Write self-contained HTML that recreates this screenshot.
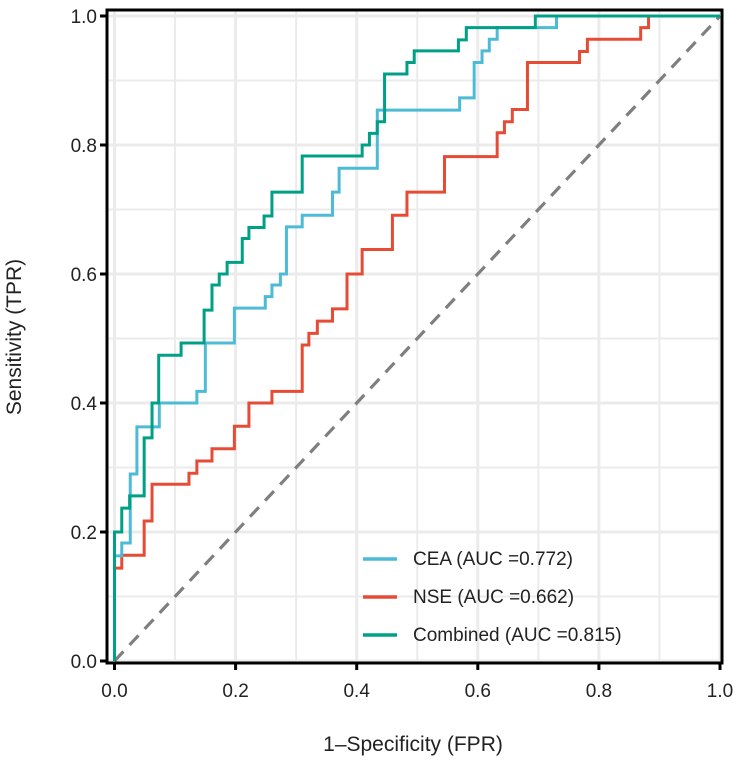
<!DOCTYPE html>
<html><head><meta charset="utf-8"><style>
body{margin:0;background:#fff}
svg text{font-family:"Liberation Sans",Arial,sans-serif;fill:#222}
</style></head><body>
<svg id="c" width="744" height="760"></svg>
<script>
const cats=["CEA (AUC =0.772)","NSE (AUC =0.662)","Combined (AUC =0.815)"];
const colors=["#4dbbd5","#e64b35","#00a087"];
const ticks=[0,0.2,0.4,0.6,0.8,1.0];
const ceaFpr=[0,0,0.012,0.026,0.037,0.074,0.136,0.150,0.198,0.249,0.260,0.274,0.284,0.310,0.360,0.371,0.434,0.570,0.594,0.607,0.619,0.632,0.730,1];
const ceaTpr=[0,0.163,0.183,0.29,0.363,0.40,0.418,0.493,0.547,0.565,0.583,0.60,0.673,0.691,0.727,0.764,0.854,0.873,0.928,0.946,0.964,0.982,1.0,1.0];
const nseFpr=[0,0,0.012,0.049,0.062,0.123,0.136,0.161,0.198,0.222,0.260,0.310,0.321,0.335,0.360,0.384,0.409,0.459,0.483,0.545,0.632,0.644,0.657,0.682,0.768,0.781,0.869,0.882,1];
const nseTpr=[0,0.144,0.164,0.217,0.274,0.291,0.31,0.329,0.364,0.40,0.418,0.49,0.508,0.527,0.546,0.60,0.638,0.691,0.727,0.782,0.819,0.836,0.855,0.928,0.945,0.964,0.982,1.0,1.0];
const combFpr=[0,0,0.012,0.025,0.049,0.062,0.073,0.110,0.148,0.161,0.173,0.186,0.211,0.222,0.247,0.260,0.310,0.409,0.421,0.434,0.446,0.483,0.495,0.568,0.581,0.695,1];
const combTpr=[0,0.2,0.237,0.256,0.346,0.40,0.474,0.493,0.544,0.583,0.60,0.618,0.655,0.672,0.69,0.727,0.783,0.80,0.818,0.836,0.91,0.928,0.946,0.963,0.982,1.0,1.0];
const series=[[ceaFpr,ceaTpr],[nseFpr,nseTpr],[combFpr,combTpr]];
const NS="http://www.w3.org/2000/svg",svg=document.getElementById('c');
const X0=114.5,X1=720,Y0=661,Y1=16;
const sx=v=>X0+v*(X1-X0), sy=v=>Y0-v*(Y0-Y1);
function el(t,a,p){const e=document.createElementNS(NS,t);for(const k in a)e.setAttribute(k,a[k]);(p||svg).appendChild(e);return e;}
const L=107,R=722,T=10,B=663;
const grid=el('g',{});


for(let i=0;i<ticks.length;i++){
  const v=ticks[i];
  el('line',{x1:sx(v),x2:sx(v),y1:T,y2:B,stroke:'#ebebeb','stroke-width':3},grid);
  el('line',{x1:L,x2:R,y1:sy(v),y2:sy(v),stroke:'#ebebeb','stroke-width':3},grid);
  if(i<ticks.length-1){const m=v+0.1;
    el('line',{x1:sx(m),x2:sx(m),y1:T,y2:B,stroke:'#ebebeb','stroke-width':2},grid);
    el('line',{x1:L,x2:R,y1:sy(m),y2:sy(m),stroke:'#ebebeb','stroke-width':2},grid);}
}
const diag=el('line',{x1:sx(0),y1:sy(0),x2:sx(1),y2:sy(1),stroke:'#7f7f7f','stroke-width':3.2,'stroke-dasharray':'13 9'});


const order=[1,0,2];
order.forEach(s=>{
  const [f,t]=series[s];
  let d='M'+sx(f[0])+','+sy(t[0]);
  for(let i=1;i<f.length;i++){d+=' H'+sx(f[i])+' V'+sy(t[i]);}
  const p=el('path',{d:d,fill:'none',stroke:colors[s],'stroke-width':3,'stroke-linejoin':'miter'});
  
  
});
const frame=el('rect',{x:L,y:T,width:R-L,height:B-T,fill:'none',stroke:'#000','stroke-width':3});


ticks.forEach(v=>{
  el('line',{x1:sx(v),x2:sx(v),y1:B,y2:B+7,stroke:'#000','stroke-width':3});
  el('line',{x1:L-7,x2:L,y1:sy(v),y2:sy(v),stroke:'#000','stroke-width':3});
  const tx=el('text',{x:sx(v),y:697,'text-anchor':'middle','font-size':19});
  tx.textContent=v.toFixed(1);
  
  
  const ty=el('text',{x:97,y:sy(v)+7,'text-anchor':'end','font-size':19});
  ty.textContent=v.toFixed(1);
  
  
});
const xt=el('text',{x:413,y:751,'text-anchor':'middle','font-size':21});
xt.textContent='1\u2013Specificity (FPR)';


const yt=el('text',{x:0,y:0,'text-anchor':'middle','font-size':21,transform:'translate(21,337) rotate(-90)'});
yt.textContent='Sensitivity (TPR)';


const ly=[559,597,635];
cats.forEach((c,i)=>{
  const g=el('g',{});
  
  
  el('line',{x1:363,x2:397,y1:ly[i],y2:ly[i],stroke:colors[i],'stroke-width':3.5},g);
  const t=el('text',{x:413,y:ly[i]+6,'font-size':19},g);
  t.textContent=c;
});
</script>
</body></html>
